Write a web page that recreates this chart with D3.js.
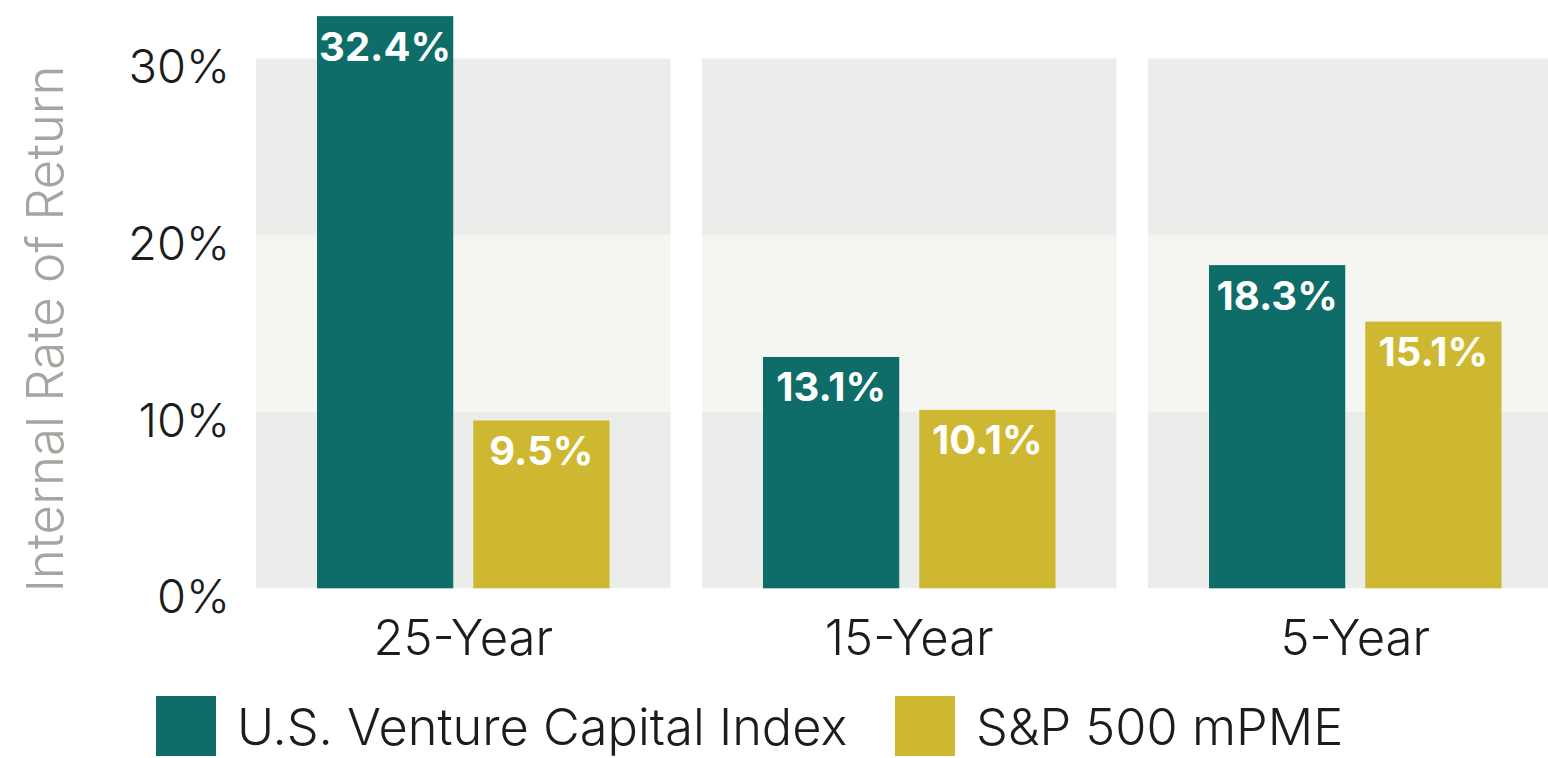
<!DOCTYPE html>
<html>
<head>
<meta charset="utf-8">
<script src="https://cdn.jsdelivr.net/npm/d3@7"></script>
<style>
  body { margin: 0; background: #fff; }
  svg { display: block; font-family: Inter, "Noto Sans", sans-serif; }
</style>
</head>
<body>
<div id="chart"></div>
<script>
// data
const periods = ["25-Year", "15-Year", "5-Year"];
const seriesNames = ["U.S. Venture Capital Index", "S&P 500 mPME"];
const vcValues = [32.4, 13.1, 18.3];
const spValues = [9.5, 10.1, 15.1];
const yTicks = [0, 10, 20, 30];

const width = 1548;
const height = 758;
const seriesColors = ["#0f6d69", "#cfb831"];
const bandColors = ["#ebedea", "#f5f6f1", "#ebedea"];

const svg = d3.select("#chart")
    .append("svg")
    .attr("width", width)
    .attr("height", height);

const y = d3.scaleLinear()
    .domain([0, 30])
    .range([588.3, 58.5]);

const x0 = d3.scaleBand()
    .domain(periods)
    .range([256, 1562.5])
    .paddingInner(0.0706)
    .paddingOuter(0);

const x1 = d3.scaleBand()
    .domain(seriesNames)
    .range([61, x0.bandwidth() - 61])
    .paddingInner(0.128);

const rows = periods.map((p, i) => ({
    period: p,
    values: [
        { name: seriesNames[0], value: vcValues[i] },
        { name: seriesNames[1], value: spValues[i] }
    ]
}));

// panel backgrounds (alternating bands)
const bands = d3.pairs(yTicks);
const panel = svg.selectAll(".panel")
    .data(rows)
    .enter()
    .append("g")
    .attr("class", "panel")
    .attr("transform", d => `translate(${x0(d.period)},0)`);

panel.selectAll(".band")
    .data(bands)
    .enter()
    .append("rect")
    .attr("class", "band")
    .attr("x", 0)
    .attr("width", x0.bandwidth())
    .attr("y", d => y(d[1]))
    .attr("height", d => y(d[0]) - y(d[1]))
    .attr("fill", (d, i) => bandColors[i]);

// bars
panel.selectAll(".bar")
    .data(d => d.values)
    .enter()
    .append("rect")
    .attr("class", "bar")
    .attr("x", d => x1(d.name))
    .attr("width", x1.bandwidth())
    .attr("y", d => y(d.value))
    .attr("height", d => y(0) - y(d.value))
    .attr("fill", (d, i) => seriesColors[i]);

// value labels
panel.selectAll(".val")
    .data(d => d.values)
    .enter()
    .append("text")
    .attr("class", "val")
    .attr("x", d => x1(d.name) + x1.bandwidth() / 2)
    .attr("y", d => y(d.value) + 44.5)
    .attr("text-anchor", "middle")
    .style("fill", "#fff")
    .style("font-size", "40px")
    .style("font-weight", "700")
    .text(d => d.value.toFixed(1) + "%");

// y axis
const yAxis = svg.append("g")
    .attr("transform", "translate(256,0)")
    .call(d3.axisLeft(y).tickValues(yTicks).tickFormat(d => d + "%").tickSize(0).tickPadding(26));
yAxis.select(".domain").remove();
yAxis.selectAll("text")
    .attr("dy", "0.52em")
    .style("fill", "#1c1c1c")
    .style("font-size", "47px")
    .style("font-weight", "300")
    .style("font-family", "Inter, sans-serif");

// x axis
const xAxis = svg.append("g")
    .attr("transform", `translate(0,${y(0)})`)
    .call(d3.axisBottom(x0).tickSize(0).tickPadding(32));
xAxis.select(".domain").remove();
xAxis.selectAll("text")
    .style("fill", "#1c1c1c")
    .style("font-size", "49px")
    .style("font-weight", "300")
    .style("font-family", "Inter, sans-serif");

// y axis title
svg.append("text")
    .attr("transform", "translate(63,329) rotate(-90)")
    .attr("text-anchor", "middle")
    .style("fill", "#a4a69f")
    .style("font-size", "51px")
    .style("font-weight", "300")
    .text("Internal Rate of Return");

// legend
const legendX = [156, 895];
const legend = svg.selectAll(".legend")
    .data(seriesNames)
    .enter()
    .append("g")
    .attr("class", "legend")
    .attr("transform", (d, i) => `translate(${legendX[i]},696)`);

legend.append("rect")
    .attr("width", 60)
    .attr("height", 60)
    .attr("fill", (d, i) => seriesColors[i]);

legend.append("text")
    .attr("x", 81)
    .attr("y", 49)
    .style("fill", "#1c1c1c")
    .style("font-size", "50.5px")
    .style("font-weight", "300")
    .text(d => d);
</script>
</body>
</html>
